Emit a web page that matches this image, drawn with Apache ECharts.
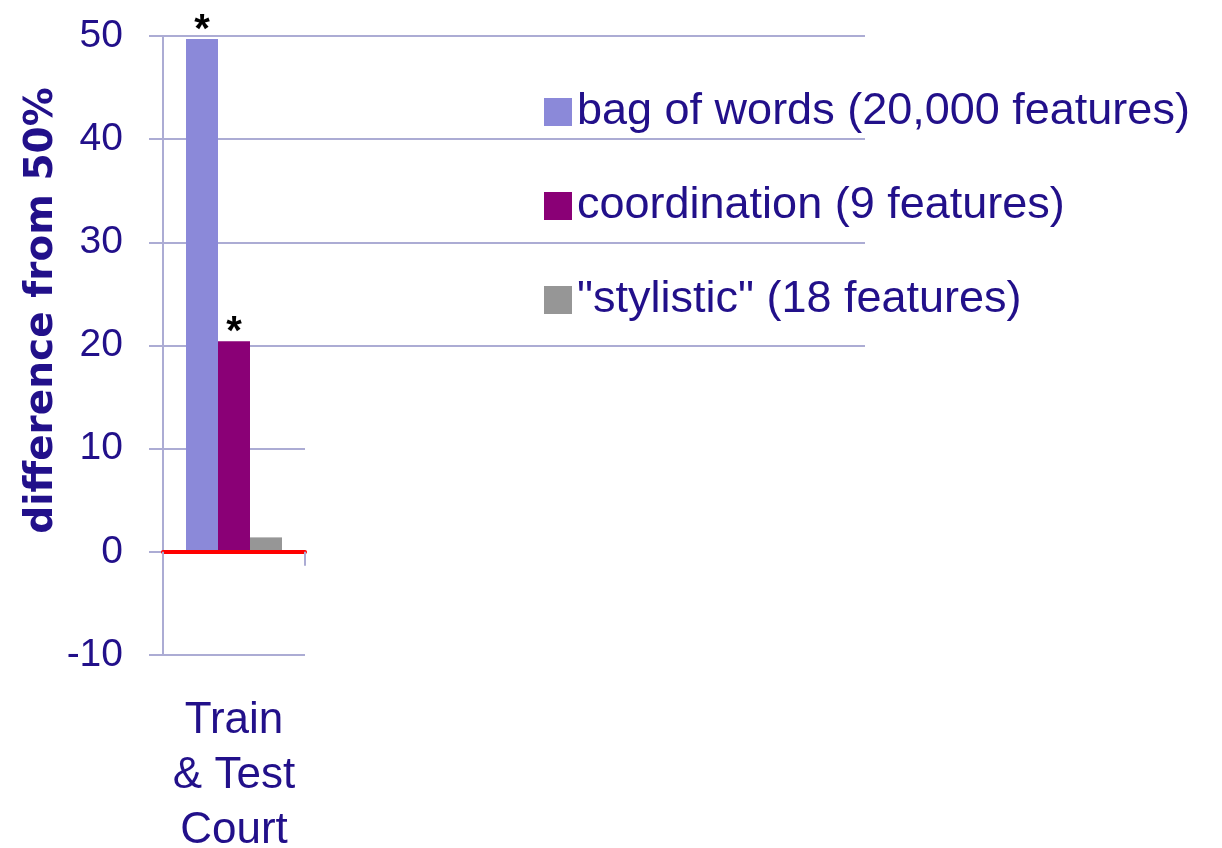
<!DOCTYPE html>
<html>
<head>
<meta charset="utf-8">
<script src="https://cdn.jsdelivr.net/npm/echarts@6/dist/echarts.min.js"></script>
<style>html,body{margin:0;padding:0;background:#fff}#c{width:1222px;height:848px}</style>
</head>
<body>
<div id="c"></div>
<script>
const categories = ['Train\n& Test\nCourt'];
const seriesNames = ['bag of words (20,000 features)', 'coordination (9 features)', '"stylistic" (18 features)'];
const bagOfWords = [49.7];
const coordination = [20.4];
const stylistic = [1.4];
const significant = [true, true, false];
const yTicks = [-10, 0, 10, 20, 30, 40, 50];

const TEXT = '#22108a';
const GRID = '#acacd4';
const colors = ['#8b89d9', '#8a0076', '#969696'];
const values = [bagOfWords, coordination, stylistic];

const chart = echarts.init(document.getElementById('c'), null, {renderer: 'canvas'});
chart.setOption({
  backgroundColor: '#ffffff',
  animation: false,
  textStyle: {fontFamily: 'Liberation Sans, Arial, sans-serif'},
  grid: [
    {left: 163, right: 917, top: 36, bottom: 193, containLabel: false, outerBoundsMode: 'none'},
    {left: 163, right: 357, top: 36, height: 309.5, containLabel: false, outerBoundsMode: 'none'}
  ],
  legend: {
    orient: 'vertical', left: 539, top: 84,
    itemWidth: 28, itemHeight: 28, itemGap: 48, icon: 'rect',
    data: seriesNames,
    textStyle: {fontSize: 45, lineHeight: 46, color: TEXT,
      fontFamily: 'Liberation Sans, Arial, sans-serif'}
  },
  xAxis: [
    {type: 'category', gridIndex: 0, data: categories,
      axisLine: {show: true, onZero: true, lineStyle: {color: '#ff0000', width: 4}},
      axisTick: {show: true, length: 14, lineStyle: {color: GRID, width: 2}},
      axisLabel: {show: false}, splitLine: {show: false}, z: 5},
    {type: 'category', gridIndex: 0, position: 'bottom', data: categories,
      axisLine: {show: false, onZero: false}, axisTick: {show: false},
      axisLabel: {show: true, color: TEXT, fontSize: 44, lineHeight: 55, margin: 38, align: 'center'},
      splitLine: {show: false}},
    {type: 'value', gridIndex: 1, min: 0, max: 1, show: false}
  ],
  yAxis: [
    {type: 'value', gridIndex: 0, min: yTicks[0], max: yTicks[yTicks.length - 1], interval: 10,
      axisLine: {show: true, lineStyle: {color: GRID, width: 2}},
      axisTick: {show: true, length: 14, lineStyle: {color: GRID, width: 2}},
      axisLabel: {color: TEXT, fontSize: 39, margin: 40},
      splitLine: {show: true, lineStyle: {color: GRID, width: 2}},
      name: 'difference from 50%', nameLocation: 'middle', nameRotate: 90, nameGap: 102,
      nameTextStyle: {color: TEXT, fontSize: 39, fontWeight: 'bold', fontFamily: 'DejaVu Sans, sans-serif',
        padding: [0, 0, 0, 70]}},
    {type: 'value', gridIndex: 1, min: 20, max: 50, interval: 10,
      axisLine: {show: false}, axisTick: {show: false}, axisLabel: {show: false},
      splitLine: {show: true, lineStyle: {color: GRID, width: 2}}}
  ],
  series: seriesNames.map((name, i) => ({
    name: name, type: 'bar', xAxisIndex: 0, yAxisIndex: 0,
    data: values[i],
    barWidth: 32, barGap: '0%',
    itemStyle: {color: colors[i]},
    label: {show: significant[i], position: 'top', distance: -12, formatter: '*',
      color: '#000', fontSize: 40, fontWeight: 'bold', fontFamily: 'Liberation Sans, Arial, sans-serif'}
  }))
});
</script>
</body>
</html>
